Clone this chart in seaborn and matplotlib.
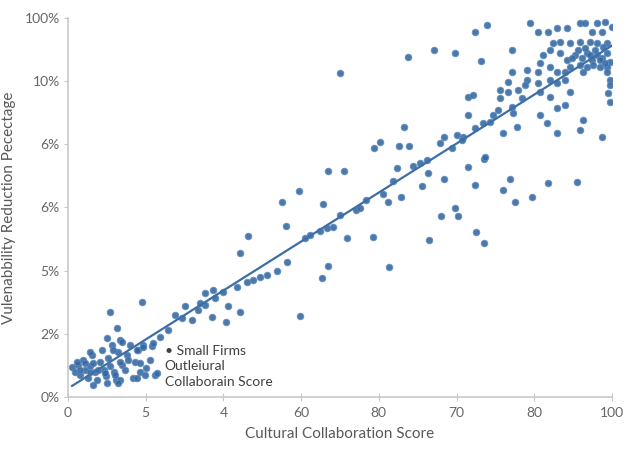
import numpy as np
import pandas as pd
import matplotlib.pyplot as plt
import seaborn as sns

# Cultural collaboration score vs vulnerability reduction
collab_score = [
    0.7, 1.3, 1.8, 2.2, 2.8, 3.1, 3.7, 4.0, 4.4, 5.0, 5.3, 5.9, 6.2, 6.6, 7.0, 7.4, 7.7, 8.1, 8.5, 8.8,
    9.2, 9.6, 9.9, 10.5, 10.8, 11.4, 11.9, 12.3, 12.9, 13.2, 13.8, 14.3, 15.1, 15.4, 16.0,
    7.7, 13.6, 9.0, 7.2, 9.9, 4.0, 1.7, 3.1, 4.6, 8.3, 9.6, 11.0, 12.7, 13.8, 2.2, 4.0, 5.5, 6.8, 8.6,
    9.6, 4.6, 7.2, 9.2, 12.7, 14.2, 16.4, 19.7, 21.5, 22.8, 26.5, 29.4, 31.6, 15.6, 16.9, 13.2,
    18.4, 21.0, 23.9, 25.2, 26.7, 28.5, 31.1, 32.9, 34.0, 35.3, 36.6, 38.4, 40.3, 43.6, 44.5, 46.3,
    47.6, 48.7, 52.9, 53.7, 57.9, 59.7, 60.5, 63.4, 64.7, 66.0, 66.2, 25.2, 24.3, 27.0,
    33.1, 31.6, 39.3, 40.1, 42.5, 46.7, 47.8, 46.9, 47.8, 50.7, 51.3, 56.1, 59.0, 61.8, 57.3, 56.2,
    60.8, 62.7, 68.4, 69.1, 66.4, 68.6, 69.1, 65.1, 61.2, 58.8, 42.6, 29.0,
    76.5, 73.5, 74.8, 80.0, 81.2, 85.3, 82.2, 93.6, 71.1, 71.7, 75.0, 76.5,
    74.8, 77.0, 84.9, 86.4, 88.2, 89.9, 91.7, 94.1, 95.0, 97.2, 98.7, 100.0, 96.3, 98.1, 81.6, 75.9,
    71.1, 89.1, 90.4, 92.3, 94.1, 95.9, 97.2, 99.1, 87.3, 88.6, 90.4, 91.7, 93.2, 94.5, 95.4, 96.3,
    97.2, 98.1, 99.1, 99.6, 94.1, 95.4, 96.5, 97.8, 99.1, 92.3, 91.3, 86.8, 88.6, 89.9, 86.4, 84.4,
    81.6, 80.9, 84.4, 86.4, 88.6, 89.9, 91.3, 79.4, 80.9, 82.7, 84.0, 86.8, 88.6, 92.3, 94.7, 99.1,
    99.6, 99.6, 99.3, 99.6, 73.5, 74.4, 79.4, 83.4, 79.0, 81.6, 81.8, 89.9, 91.3, 73.5, 78.1, 86.8,
    88.0, 74.8, 76.3, 77.6, 82.5, 80.0, 89.9, 94.1, 94.7, 98.1, 76.6, 71.5, 72.6,
    50.0, 62.5, 67.3, 88.2, 95.0, 96.9, 98.3, 93.7, 95.9, 97.8, 92.6, 98.7, 50.0, 54.8, 70.6, 72.4,
]
vuln_reduction = [
    7.9, 6.6, 8.4, 5.8, 9.8, 7.1, 5.0, 8.2, 11.1, 6.6, 4.5, 9.2, 12.4, 7.1, 5.5, 10.3, 8.2, 13.7, 6.6, 4.5,
    11.9, 15.0, 8.4, 7.1, 11.1, 13.7, 5.0, 9.2, 12.4, 6.6, 13.7, 7.7, 9.8, 13.5, 5.8,
    22.4, 25.1, 18.2, 15.6, 14.5, 11.9, 9.2, 9.0, 9.0, 12.4, 9.2, 9.8, 12.4, 13.2, 7.1, 6.6, 7.1, 6.3, 5.8,
    4.5, 3.2, 3.7, 3.7, 5.0, 5.8, 6.3, 21.6, 24.0, 20.3, 21.1, 24.0, 22.4, 14.3, 15.8, 9.0,
    17.7, 20.8, 23.0, 24.3, 28.2, 27.7, 29.0, 30.3, 30.9, 31.7, 32.2, 33.3, 35.6, 42.0, 42.8, 43.8,
    44.6, 44.9, 49.3, 49.9, 53.6, 57.0, 60.4, 61.0, 61.8, 62.5, 59.1, 27.4, 24.8, 26.1,
    42.5, 38.0, 51.5, 45.1, 54.4, 31.4, 34.6, 50.9, 59.6, 59.6, 42.0, 42.2, 34.3, 71.3, 67.3, 65.7,
    66.2, 66.2, 67.0, 68.6, 41.4, 47.8, 57.5, 55.7, 52.8, 51.5, 21.4, 19.8,
    62.8, 60.7, 55.9, 54.6, 57.5, 52.8, 51.5, 56.7, 49.9, 47.8, 43.5, 40.6,
    96.3, 98.2, 98.7, 96.3, 96.3, 97.4, 97.4, 98.7, 98.7, 98.7, 99.0, 97.6, 96.3, 96.3, 91.6, 88.7,
    90.8, 93.4, 93.7, 93.4, 93.7, 93.7, 93.4, 93.4, 90.3, 91.6, 90.8, 88.9, 90.3, 89.5, 90.8, 88.9,
    90.3, 89.5, 90.8, 88.4, 87.6, 87.1, 87.6, 87.1, 87.1, 87.1, 85.8, 88.1, 87.1, 85.8, 85.8, 86.3,
    85.8, 83.1, 83.7, 82.9, 83.7, 82.9, 83.7, 81.0, 80.5, 81.0, 82.3, 80.5, 79.2, 80.5, 85.8, 85.8,
    83.7, 82.3, 80.2, 77.8, 79.2, 79.7, 78.9, 78.9, 75.7, 76.5, 74.9, 76.3, 77.1, 74.4, 74.4, 74.4,
    72.3, 71.0, 72.3, 72.6, 71.3, 69.7, 69.7, 70.5, 73.1, 68.6, 63.3, 69.1, 68.6,
    85.5, 89.7, 91.6, 56.5, 92.1, 91.6, 92.4, 91.6, 90.3, 88.9, 89.5, 88.1, 48.0, 52.0, 65.7, 67.8,
]

x_ticks = np.linspace(0, 100, 8)
x_tick_labels = ["0", "5", "4", "60", "80", "70", "80", "100"]
y_ticks = np.linspace(0, 100, 7)
y_tick_labels = ["0%", "2%", "5%", "6%", "6%", "10%", "100%"]

df = pd.DataFrame({"score": collab_score, "reduction": vuln_reduction})

sns.set_style("white")
plt.rcParams["font.family"] = ["Lato", "DejaVu Sans"]

fig = plt.figure(figsize=(6.27, 4.53), dpi=100)
ax = fig.add_axes([0.1085, 0.1236, 0.8675, 0.8367])

sns.regplot(data=df, x="score", y="reduction", ax=ax, ci=None,
            scatter_kws=dict(s=22, color="#35659c", alpha=0.88, edgecolor="#5a8cc4", linewidths=0.7),
            line_kws=dict(color="#3d6ea6", lw=1.6))

ax.set_xlim(0, 100)
ax.set_ylim(0, 100)
ax.set_xticks(x_ticks)
ax.set_xticklabels(x_tick_labels)
ax.set_yticks(y_ticks)
ax.set_yticklabels(y_tick_labels)

for side in ["top", "right"]:
    ax.spines[side].set_visible(False)
for side in ["left", "bottom"]:
    ax.spines[side].set_color("#c8c8c8")
    ax.spines[side].set_linewidth(1.2)

ax.tick_params(axis="x", direction="inout", length=6, color="#c8c8c8", labelsize=10,
               labelcolor="#666666", pad=4)
ax.tick_params(axis="y", direction="out", length=3, color="#c8c8c8", labelsize=10,
               labelcolor="#666666", pad=3)
ax.tick_params(left=True, bottom=True)

ax.set_xlabel("Cultural Collaboration Score", fontsize=11, color="#595959", labelpad=6)
ax.set_ylabel("Vulenabbility Reduction Pecectage", fontsize=11, color="#595959", labelpad=6)

ax.text(17.8, 13.8, "\u2022 Small Firms\nOutleiural\nCollaborain Score", fontsize=10,
        color="#404040", va="top", ha="left", linespacing=1.35)

fig.savefig("out.png", dpi=100)
